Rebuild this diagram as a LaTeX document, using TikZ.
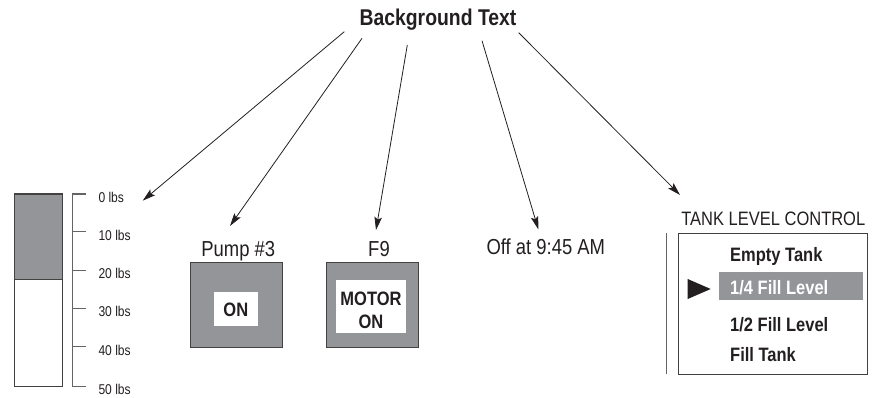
\documentclass[tikz,border=0pt]{standalone}
\usepackage{fontspec}
\setmainfont{Liberation Sans}[FakeStretch=0.85]
\usetikzlibrary{arrows.meta}
\definecolor{fillgray}{RGB}{147,149,152}
\definecolor{ink}{RGB}{35,31,32}
\definecolor{linegray}{RGB}{100,100,104}
\begin{document}
\begin{tikzpicture}[x=1pt,y=-1pt,
  txt/.style={inner sep=0pt,text=ink},
  bigtxt/.style={txt,font=\fontsize{21.7}{25}\selectfont},
  boldtxt/.style={txt,font=\fontsize{19.4}{23}\selectfont\bfseries},
  scaletxt/.style={txt,font=\fontsize{14.2}{17}\selectfont,anchor=base west},
  pointer/.style={draw=ink,line width=0.8pt,-{Stealth[length=13pt,width=7.5pt,inset=2.5pt]}},
  panel/.style={draw=ink!85,line width=1.3pt},
  tick/.style={draw=linegray,line width=1pt}]
\useasboundingbox (0,0) rectangle (880,398);

% title
\node[txt,font=\fontsize{22.8}{26}\selectfont\bfseries,anchor=base] (bg) at (438,26) {Background Text};

% bar graph
\fill[fillgray] (14,194) rectangle (62.7,279.3);
\draw[draw=ink!85,line width=1pt] (14,194) rectangle (62.7,386.7);
\draw[draw=ink!85,line width=1pt] (14,279.3) -- (62.7,279.3);
\draw[tick] (86,194) -- (72.3,194) -- (72.3,386) -- (86,386);
\foreach \yy in {231.7,270,308.3,346.7} \draw[tick] (72.3,\yy) -- (86,\yy);
\node[scaletxt] (l0) at (98.3,202.5) {0 lbs};
\node[scaletxt] (l10) at (98.3,240.2) {10 lbs};
\node[scaletxt] (l20) at (98.3,278.5) {20 lbs};
\node[scaletxt] (l30) at (98.3,316.8) {30 lbs};
\node[scaletxt] (l40) at (98.3,355.2) {40 lbs};
\node[scaletxt] (l50) at (98.3,394.5) {50 lbs};

% pump
\node[bigtxt,anchor=base] (pump) at (238.3,256) {Pump \#3};
\draw[panel,fill=fillgray] (190.7,262.7) rectangle (282.7,347.3);
\fill[white] (214,291.7) rectangle (257.7,326);
\node[boldtxt,anchor=base] (on1) at (235.8,316) {ON};

% F9
\node[bigtxt,anchor=base] (f9) at (379,256) {F9};
\draw[panel,fill=fillgray] (326.7,262.7) rectangle (418.7,347.3);
\fill[white] (336,280) rectangle (406,333.3);
\node[boldtxt,anchor=base] (motor) at (371,305) {MOTOR};
\node[boldtxt,anchor=base] (on2) at (371,328.3) {ON};

% off time
\node[bigtxt,anchor=base] (off) at (545.8,254.3) {Off at 9:45 AM};

% tank level control
\node[txt,font=\fontsize{19.4}{23}\selectfont,anchor=base] (tlc) at (773.3,225) {TANK LEVEL CONTROL};
\draw[draw=linegray,line width=1pt] (666.7,233) -- (666.7,374);
\draw[draw=ink!85,line width=1pt] (678.3,233.3) rectangle (867.3,374);
\fill[fillgray] (719,271.7) rectangle (863.3,300);
\fill[ink] (687.7,279) -- (710.7,289) -- (687.7,299) -- cycle;
\node[boldtxt,anchor=base west] (empty) at (730,261.7) {Empty Tank};
\node[boldtxt,anchor=base west,text=white] (quarter) at (730,294.3) {1/4 Fill Level};
\node[boldtxt,anchor=base west] (half) at (730,331.7) {1/2 Fill Level};
\node[boldtxt,anchor=base west] (full) at (730,361) {Fill Tank};

% arrows
\coordinate (s1) at (344.3,31.7);
\coordinate (s2) at (362,38.3);
\coordinate (s3) at (407.3,45);
\coordinate (s4) at (482,40.7);
\coordinate (s5) at (518.7,32.7);
\coordinate (e1) at (142.7,200.7);
\coordinate (e2) at (230,226);
\coordinate (e3) at (376,230);
\coordinate (e4) at (538.3,229.3);
\coordinate (e5) at (680,195);
\draw[pointer] (s1) -- (e1);
\draw[pointer] (s2) -- (e2);
\draw[pointer] (s3) -- (e3);
\draw[pointer] (s4) -- (e4);
\draw[pointer] (s5) -- (e5);
\end{tikzpicture}
\end{document}
